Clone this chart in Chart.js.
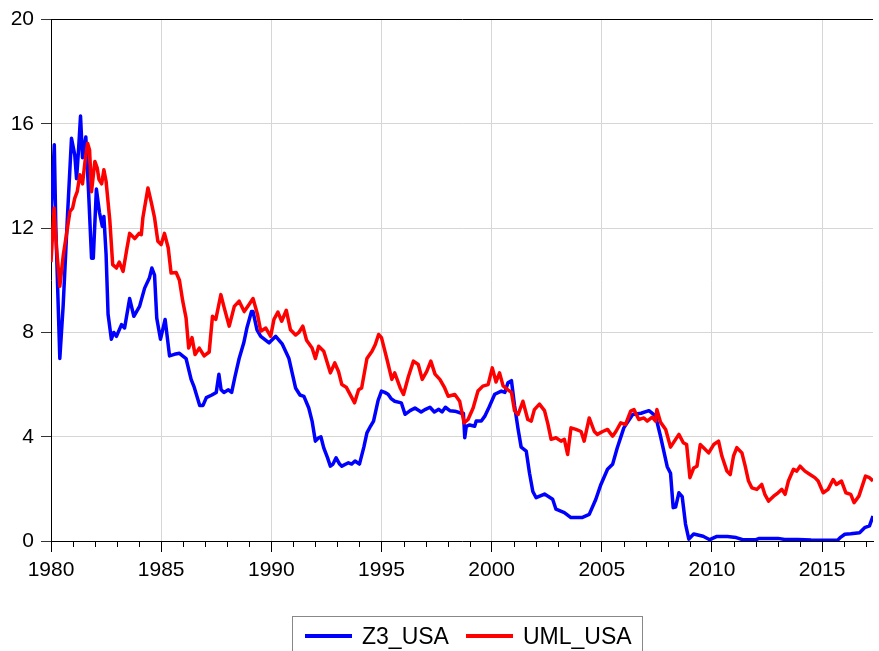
<!DOCTYPE html>
<html>
<head>
<meta charset="utf-8">
<script src="https://cdn.jsdelivr.net/npm/chart.js@4/dist/chart.umd.min.js"></script>
<style>
  body { margin: 0; background: #fff; }
  #wrap { position: relative; width: 879px; height: 651px; overflow: hidden; }
  #legend {
    position: absolute; left: 292px; top: 616px; width: 351px; height: 44px;
    border: 1px solid #888; box-sizing: border-box;
    display: flex; align-items: flex-start; padding: 6px 0 0 12px;
    font-family: "Liberation Sans", Arial, sans-serif; font-size: 23px; color: #000;
  }
  #legend .item { display: flex; align-items: center; height: 26px; }
  #legend .swatch { width: 47px; height: 4px; margin-right: 10px; }
  #legend .item + .item { margin-left: 17px; }
</style>
</head>
<body>
<div id="wrap">
  <canvas id="chart" width="879" height="651"></canvas>
  <div id="legend"></div>
</div>
<script>
// Z3_USA (blue)
const z3Years = [1980.00, 1980.15, 1980.22, 1980.40, 1980.55, 1980.75, 1980.93, 1981.08, 1981.16, 1981.25,
  1981.34, 1981.43, 1981.58, 1981.70, 1981.84, 1981.92, 1982.06, 1982.20, 1982.33, 1982.40,
  1982.50, 1982.59, 1982.74, 1982.85, 1982.97, 1983.20, 1983.34, 1983.57, 1983.76, 1984.02,
  1984.25, 1984.47, 1984.58, 1984.70, 1984.80, 1984.97, 1985.18, 1985.38, 1985.60, 1985.83,
  1986.13, 1986.36, 1986.50, 1986.75, 1986.90, 1987.05, 1987.30, 1987.50, 1987.62, 1987.72,
  1987.85, 1988.05, 1988.20, 1988.35, 1988.54, 1988.75, 1988.90, 1989.10, 1989.17, 1989.35,
  1989.52, 1989.90, 1990.20, 1990.50, 1990.80, 1991.10, 1991.30, 1991.48, 1991.70, 1991.85,
  1992.00, 1992.15, 1992.25, 1992.38, 1992.55, 1992.68, 1992.80, 1992.94, 1993.10, 1993.20,
  1993.50, 1993.65, 1993.80, 1994.00, 1994.20, 1994.34, 1994.50, 1994.64, 1994.85, 1995.00,
  1995.15, 1995.30, 1995.45, 1995.60, 1995.90, 1996.07, 1996.30, 1996.52, 1996.80, 1997.00,
  1997.20, 1997.40, 1997.60, 1997.75, 1997.90, 1998.10, 1998.33, 1998.63, 1998.72, 1998.78,
  1998.85, 1999.00, 1999.23, 1999.30, 1999.53, 1999.70, 1999.84, 2000.14, 2000.44, 2000.60,
  2000.74, 2000.90, 2001.04, 2001.20, 2001.34, 2001.57, 2001.72, 2001.87, 2002.02, 2002.40,
  2002.77, 2002.92, 2003.30, 2003.60, 2004.10, 2004.43, 2004.73, 2004.96, 2005.26, 2005.49,
  2005.70, 2006.00, 2006.40, 2006.78, 2007.14, 2007.44, 2007.67, 2007.97, 2008.12, 2008.24,
  2008.35, 2008.50, 2008.65, 2008.80, 2008.95, 2009.17, 2009.60, 2009.90, 2010.20, 2010.70,
  2011.10, 2011.40, 2012.00, 2012.15, 2013.00, 2013.30, 2013.90, 2014.50, 2015.70, 2015.85,
  2016.03, 2016.30, 2016.70, 2016.93, 2017.15, 2017.31];
const z3Values = [12.5, 15.2, 12.0, 7.0, 9.0, 12.5, 15.45, 14.8, 13.9, 15.0,
  16.3, 14.7, 15.5, 13.5, 10.85, 10.85, 13.5, 12.6, 12.07, 12.45,
  11.0, 8.7, 7.74, 8.0, 7.85, 8.3, 8.17, 9.3, 8.62, 9.0,
  9.7, 10.1, 10.47, 10.2, 8.55, 7.74, 8.5, 7.1, 7.16, 7.2,
  7.0, 6.2, 5.9, 5.2, 5.2, 5.5, 5.6, 5.7, 6.4, 5.8,
  5.7, 5.8, 5.7, 6.3, 7.0, 7.6, 8.2, 8.8, 8.8, 8.1,
  7.85, 7.6, 7.85, 7.55, 7.0, 5.87, 5.6, 5.55, 5.1, 4.6,
  3.83, 3.96, 4.0, 3.57, 3.2, 2.87, 2.95, 3.19, 2.95, 2.87,
  3.0, 2.95, 3.07, 2.95, 3.6, 4.15, 4.4, 4.6, 5.4, 5.75,
  5.7, 5.63, 5.45, 5.36, 5.3, 4.86, 5.0, 5.1, 4.95, 5.05,
  5.13, 4.95, 5.05, 4.95, 5.13, 5.0, 4.98, 4.9, 4.9, 3.96,
  4.4, 4.45, 4.4, 4.6, 4.6, 4.8, 5.05, 5.63, 5.75, 5.7,
  6.07, 6.15, 5.2, 4.3, 3.6, 3.45, 2.6, 1.9, 1.66, 1.8,
  1.6, 1.22, 1.09, 0.9, 0.9, 1.02, 1.6, 2.17, 2.75, 2.94,
  3.57, 4.34, 4.85, 4.9, 5.0, 4.8, 4.0, 2.85, 2.6, 1.28,
  1.3, 1.85, 1.7, 0.65, 0.07, 0.27, 0.18, 0.05, 0.17, 0.17,
  0.13, 0.05, 0.05, 0.1, 0.1, 0.06, 0.06, 0.04, 0.03, 0.15,
  0.26, 0.28, 0.32, 0.51, 0.58, 0.96];

// UML_USA (red)
const umlYears = [1980.00, 1980.14, 1980.25, 1980.40, 1980.56, 1980.70, 1980.86, 1980.98, 1981.08, 1981.19,
  1981.31, 1981.43, 1981.55, 1981.66, 1981.75, 1981.84, 1981.99, 1982.10, 1982.18, 1982.30,
  1982.40, 1982.50, 1982.67, 1982.80, 1982.97, 1983.10, 1983.27, 1983.45, 1983.57, 1983.80,
  1984.00, 1984.10, 1984.17, 1984.40, 1984.55, 1984.70, 1984.85, 1985.00, 1985.15, 1985.32,
  1985.45, 1985.68, 1985.83, 1985.98, 1986.13, 1986.25, 1986.40, 1986.54, 1986.73, 1986.95,
  1987.18, 1987.33, 1987.48, 1987.71, 1987.86, 1988.09, 1988.32, 1988.54, 1988.77, 1988.99,
  1989.17, 1989.37, 1989.52, 1989.75, 1989.97, 1990.12, 1990.30, 1990.47, 1990.68, 1990.87,
  1991.10, 1991.25, 1991.43, 1991.60, 1991.85, 1992.00, 1992.15, 1992.38, 1992.68, 1992.88,
  1993.05, 1993.20, 1993.40, 1993.66, 1993.78, 1993.96, 1994.10, 1994.34, 1994.57, 1994.72,
  1994.87, 1995.00, 1995.24, 1995.47, 1995.60, 1995.85, 1996.00, 1996.22, 1996.45, 1996.67,
  1996.85, 1997.05, 1997.24, 1997.43, 1997.65, 1997.87, 1998.03, 1998.33, 1998.55, 1998.75,
  1998.93, 1999.16, 1999.38, 1999.60, 1999.84, 2000.03, 2000.20, 2000.36, 2000.52, 2000.74,
  2000.90, 2001.04, 2001.20, 2001.42, 2001.64, 2001.80, 2001.94, 2002.17, 2002.40, 2002.55,
  2002.70, 2002.92, 2003.15, 2003.30, 2003.45, 2003.60, 2003.83, 2004.06, 2004.20, 2004.43,
  2004.66, 2004.80, 2005.04, 2005.26, 2005.49, 2005.64, 2005.86, 2006.08, 2006.31, 2006.46,
  2006.68, 2006.91, 2007.06, 2007.29, 2007.44, 2007.50, 2007.67, 2007.90, 2008.12, 2008.35,
  2008.50, 2008.70, 2008.85, 2009.00, 2009.17, 2009.32, 2009.47, 2009.62, 2009.85, 2010.08,
  2010.30, 2010.45, 2010.68, 2010.83, 2010.98, 2011.13, 2011.36, 2011.51, 2011.66, 2011.81,
  2012.04, 2012.26, 2012.40, 2012.57, 2012.80, 2013.00, 2013.17, 2013.32, 2013.47, 2013.70,
  2013.85, 2014.00, 2014.22, 2014.45, 2014.67, 2014.82, 2015.05, 2015.27, 2015.50, 2015.65,
  2015.88, 2016.08, 2016.30, 2016.45, 2016.67, 2016.97, 2017.15, 2017.31];
const umlValues = [10.7, 12.77, 11.24, 9.77, 10.98, 11.75, 12.64, 12.77, 13.15, 13.4,
  14.05, 13.7, 14.6, 15.26, 15.0, 13.4, 14.56, 14.3, 13.86, 13.7,
  14.24, 13.8, 12.3, 10.6, 10.47, 10.7, 10.34, 11.24, 11.8, 11.6,
  11.8, 11.75, 12.4, 13.54, 13.0, 12.4, 11.5, 11.37, 11.8, 11.25,
  10.28, 10.3, 10.0, 9.2, 8.56, 7.4, 7.8, 7.15, 7.4, 7.1,
  7.25, 8.62, 8.5, 9.45, 8.95, 8.24, 9.0, 9.2, 8.8, 9.07,
  9.3, 8.7, 8.05, 8.17, 7.85, 8.5, 8.78, 8.43, 8.85, 8.1,
  7.9, 8.0, 8.24, 7.7, 7.4, 7.0, 7.47, 7.28, 6.45, 6.83,
  6.5, 6.0, 5.9, 5.49, 5.3, 5.8, 5.87, 7.0, 7.28, 7.54,
  7.92, 7.8, 7.0, 6.2, 6.45, 5.87, 5.62, 6.3, 6.9, 6.77,
  6.2, 6.5, 6.9, 6.4, 6.2, 5.87, 5.55, 5.62, 5.36, 4.53,
  4.66, 5.1, 5.75, 5.94, 6.0, 6.64, 6.1, 6.45, 5.95, 5.8,
  5.7, 5.0, 4.85, 5.36, 4.66, 4.6, 5.04, 5.25, 5.0, 4.5,
  3.9, 3.96, 3.83, 3.9, 3.32, 4.34, 4.28, 4.2, 3.83, 4.72,
  4.2, 4.09, 4.2, 4.28, 4.02, 4.2, 4.53, 4.47, 4.98, 5.04,
  4.66, 4.72, 4.6, 4.75, 4.6, 5.04, 4.55, 4.28, 3.6, 3.9,
  4.09, 3.77, 3.7, 2.43, 2.8, 2.87, 3.7, 3.58, 3.38, 3.7,
  3.83, 3.26, 2.68, 2.55, 3.26, 3.58, 3.38, 2.87, 2.3, 2.04,
  1.98, 2.17, 1.79, 1.53, 1.72, 1.85, 1.98, 1.79, 2.3, 2.75,
  2.68, 2.87, 2.68, 2.55, 2.43, 2.3, 1.85, 1.98, 2.36, 2.17,
  2.3, 1.85, 1.79, 1.47, 1.72, 2.49, 2.43, 2.3];

const yTicks = [0, 4, 8, 12, 16, 20];
const xStart = 1980;
const xEnd = 2017.31;

const FONT = '"Liberation Sans", Arial, sans-serif';

function toPoints(xs, ys) {
  return xs.map((x, i) => ({ x: x, y: ys[i] }));
}

// short minor ticks for years that don't get a label
const minorTicks = {
  id: 'minorTicks',
  afterDraw(chart) {
    const xs = chart.scales.x;
    const ctx = chart.ctx;
    const bottom = chart.chartArea.bottom;
    ctx.save();
    ctx.strokeStyle = '#000';
    ctx.lineWidth = 1;
    ctx.beginPath();
    for (let yr = Math.ceil(xStart); yr <= xEnd; yr++) {
      if (yr % 5 === 0) continue;
      const px = Math.round(xs.getPixelForValue(yr)) + 0.5;
      ctx.moveTo(px, bottom);
      ctx.lineTo(px, bottom + 6);
    }
    ctx.stroke();
    ctx.restore();
  }
};

const chart = new Chart(document.getElementById('chart'), {
  type: 'line',
  data: {
    datasets: [
      {
        label: 'Z3_USA',
        data: toPoints(z3Years, z3Values),
        borderColor: '#0000FF',
        borderWidth: 3.5,
        borderJoinStyle: 'round',
        pointRadius: 0,
        tension: 0,
        order: 2
      },
      {
        label: 'UML_USA',
        data: toPoints(umlYears, umlValues),
        borderColor: '#FF0000',
        borderWidth: 3.5,
        borderJoinStyle: 'round',
        pointRadius: 0,
        tension: 0,
        order: 1
      }
    ]
  },
  options: {
    responsive: false,
    animation: false,
    devicePixelRatio: 1,
    layout: { padding: { top: 18, left: 0, right: 0, bottom: 0 } },
    plugins: {
      legend: { display: false },
      tooltip: { enabled: false }
    },
    scales: {
      x: {
        type: 'linear',
        min: xStart,
        max: xEnd,
        afterFit(scale) { scale.height = 110; },
        border: { color: '#000', width: 1 },
        grid: {
          color: (c) => (c.tick && c.tick.value % 5 === 0) ? '#d6d6d6' : 'rgba(0,0,0,0)',
          tickColor: (c) => (c.tick && c.tick.value % 5 === 0) ? '#000' : 'rgba(0,0,0,0)',
          tickLength: 11
        },
        ticks: {
          stepSize: 1,
          autoSkip: false,
          maxRotation: 0,
          padding: 6,
          color: '#000',
          font: { family: FONT, size: 21 },
          callback: (v) => (v % 5 === 0) ? String(v) : ''
        }
      },
      y: {
        min: 0,
        max: 20,
        afterFit(scale) { scale.width = 51; },
        afterBuildTicks(scale) { scale.ticks = yTicks.map(v => ({ value: v })); },
        border: { color: '#000', width: 1 },
        grid: {
          color: (c) => (c.tick && c.tick.value === 20) ? '#000' : '#d6d6d6',
          tickColor: '#333',
          tickLength: 10
        },
        ticks: {
          padding: 7,
          color: '#000',
          font: { family: FONT, size: 21 }
        }
      }
    }
  },
  plugins: [minorTicks]
});

// legend with a framed box, built from the datasets
const legendEl = document.getElementById('legend');
chart.data.datasets.forEach(ds => {
  const item = document.createElement('div');
  item.className = 'item';
  const sw = document.createElement('span');
  sw.className = 'swatch';
  sw.style.background = ds.borderColor;
  const txt = document.createElement('span');
  txt.textContent = ds.label;
  item.appendChild(sw);
  item.appendChild(txt);
  legendEl.appendChild(item);
});
</script>
</body>
</html>
